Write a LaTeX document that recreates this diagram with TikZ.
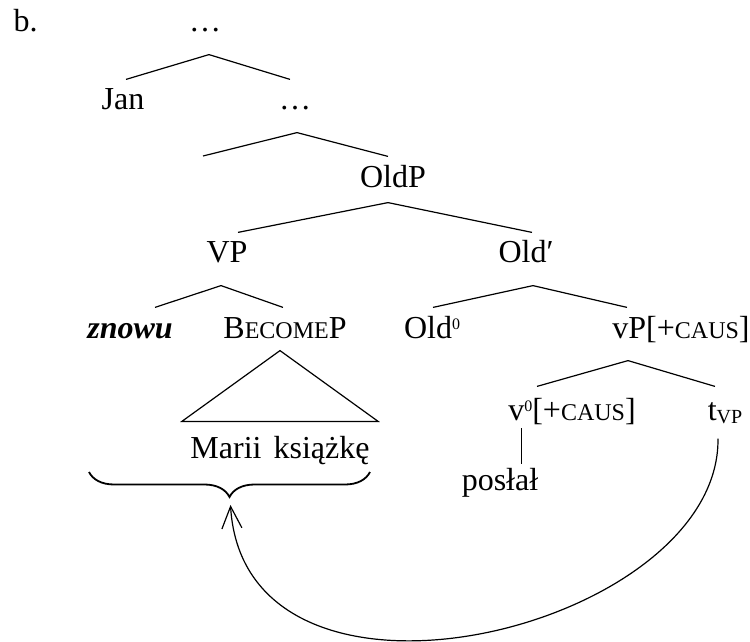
\documentclass[tikz,border=0pt]{standalone}
\usepackage{fontspec}
\setmainfont{Liberation Serif}
\usetikzlibrary{arrows.meta, positioning, calc, decorations.pathreplacing}

\newcommand{\smc}[1]{{\fontsize{12}{12}\selectfont #1}}
\newcommand{\zero}{\raisebox{4.5pt}{\fontsize{8}{8}\selectfont 0}}

\begin{document}
\begin{tikzpicture}[
    x=0.5pt, y=-0.5pt,
    line width=0.6pt,
    every node/.style={font=\fontsize{16}{19}\selectfont},
    cat/.style={anchor=base, inner sep=0pt, text height=15pt, text depth=11pt},
    move/.style={-{Straight Barb[length=11pt, width=10pt]}}
]
\useasboundingbox (0,0) rectangle (750,642);

\node[anchor=base west, inner sep=0pt] (ex) at (13,32) {b.};
\node[cat] (top) at (205,32) {…};
\node[cat] (Jan) at (123,110) {Jan};
\node[cat] (dots) at (295,110) {…};
\coordinate (spec) at (203,156);
\node[cat] (OldP) at (393,187) {OldP};
\node[cat] (VP) at (227,263) {VP};
\node[cat] (Oldbar) at (526,263) {Old′};
\node[cat] (znowu) at (130,338) {\textbf{\textit{znowu}}};
\node[cat] (BecP) at (285,338) {B\smc{ECOME}P};
\node[cat] (Old0) at (432,338) {Old\zero};
\node[cat] (vP) at (681,338) {vP[+\smc{CAUS}]};
\node[cat] (v0) at (572,420) {v\zero[+\smc{CAUS}]};
\node[cat] (tVP) at (725,420) {t\raisebox{-1.5pt}{\fontsize{10}{10}\selectfont VP}};
\node[cat] (poslal) at (500,490) {posłał};
\node[cat] (words) at (280,458) {Marii\hspace{6pt}książkę};

% branches
\draw ($(top.south)+(4,0)$) -- ($(Jan.north)+(3,0)$);
\draw ($(top.south)+(4,0)$) -- ($(dots.north)+(-5,0)$);
\draw ($(dots.south)+(2,0)$) -- (spec);
\draw ($(dots.south)+(2,0)$) -- ($(OldP.north)+(-5,0)$);
\draw ($(OldP.south)+(-5,-7)$) -- ($(VP.north)+(11,0)$);
\draw ($(OldP.south)+(-5,-7)$) -- ($(Oldbar.north)+(6,0)$);
\draw ($(VP.south)+(-6,0)$) -- ($(znowu.north)+(25,0)$);
\draw ($(VP.south)+(-6,0)$) -- ($(BecP.north)+(-2,0)$);
\draw ($(Oldbar.south)+(7,0)$) -- ($(Old0.north)+(1,0)$);
\draw ($(Oldbar.south)+(7,0)$) -- ($(vP.north)+(-54,0)$);
\draw ($(vP.south)+(-53,0)$) -- ($(v0.north)+(-35,-3)$);
\draw ($(vP.south)+(-53,0)$) -- ($(tVP.north)+(-10,-3)$);
\draw ($(v0.base west)+(14,8)$) coordinate (head) -- ($(head |- poslal.north)+(0,5)$);

% triangle
\draw ($(BecP.south)+(-5,-10)$) -- ($(words.north west)+(-8,-6)$)
    -- ($(words.north east)+(8,-6)$) -- cycle;

% brace and movement
\draw[line width=0.9pt, decorate, decoration={brace, amplitude=12.5pt}]
    (370,472) -- (89,472);
\coordinate (brtip) at (230,497);
\draw[move, shorten >=4pt] ($(tVP.south)+(-7,-4)$) .. controls (720,630) and (245,745) .. (brtip);
\end{tikzpicture}
\end{document}
